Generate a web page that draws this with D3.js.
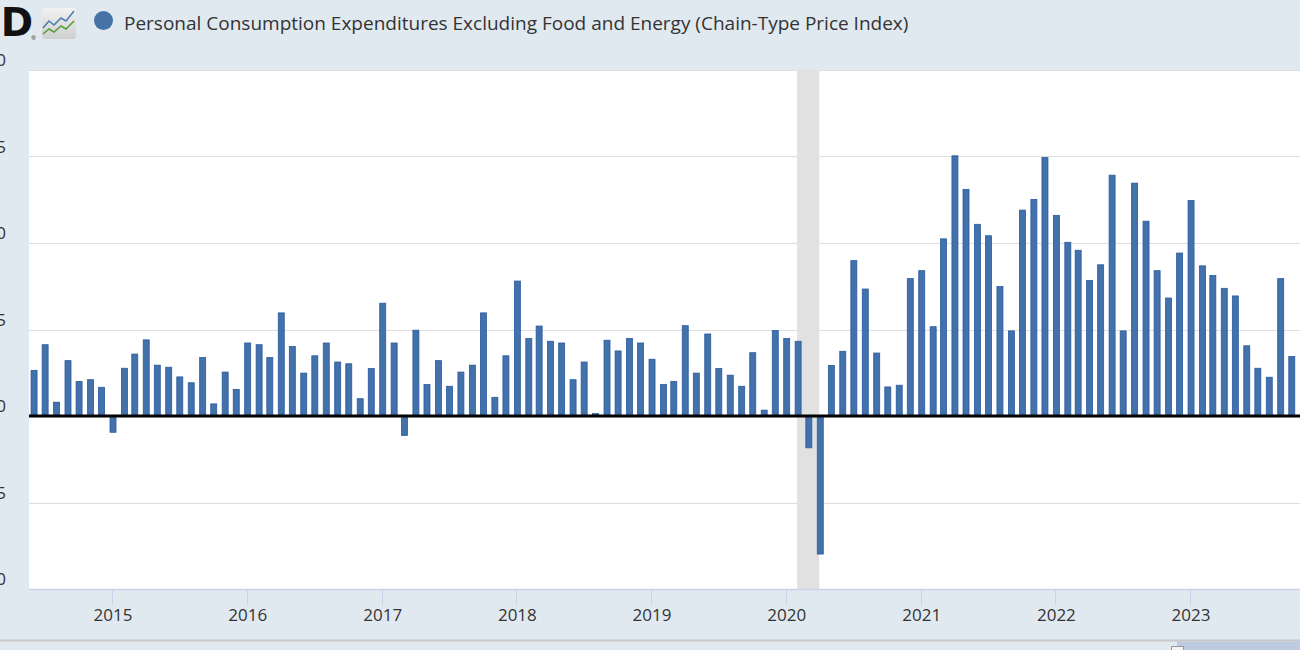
<!DOCTYPE html>
<html>
<head>
<meta charset="utf-8">
<script src="https://cdn.jsdelivr.net/npm/d3@7"></script>
<style>
  html, body { margin: 0; padding: 0; background: #e1e9f0; overflow: hidden; }
  svg { display: block; }
  text { font-family: "Open Sans", "Noto Sans", sans-serif; }
</style>
</head>
<body>
<svg id="chart" width="1300" height="650"></svg>
<script>
// ---- data ----
const seriesTitle = "Personal Consumption Expenditures Excluding Food and Energy (Chain-Type Price Index)";
const firstMonth = "2014-06-01";
const lastMonth = "2023-10-01";
// monthly percent change, Jun 2014 .. Oct 2023
const values = [
  0.132, 0.206, 0.040, 0.160, 0.100, 0.105, 0.083,
  -0.047, 0.138, 0.179, 0.220, 0.147, 0.141, 0.113, 0.096, 0.169, 0.035, 0.127, 0.077,
  0.211, 0.206, 0.169, 0.298, 0.201, 0.124, 0.174, 0.211, 0.156, 0.151, 0.050, 0.137,
  0.326, 0.211, -0.056, 0.248, 0.091, 0.160, 0.086, 0.127, 0.147, 0.298, 0.054, 0.174,
  0.390, 0.224, 0.260, 0.216, 0.211, 0.105, 0.156, 0.007, 0.219, 0.188, 0.224, 0.211,
  0.164, 0.091, 0.100, 0.261, 0.124, 0.237, 0.137, 0.118, 0.086, 0.183, 0.017, 0.247,
  0.224, 0.216, -0.092, -0.399, 0.146, 0.187, 0.449, 0.367, 0.182, 0.084, 0.089, 0.397,
  0.420, 0.258, 0.512, 0.752, 0.655, 0.554, 0.521, 0.374, 0.246, 0.595, 0.626, 0.747,
  0.580, 0.502, 0.479, 0.392, 0.437, 0.696, 0.246, 0.673, 0.563, 0.420, 0.341, 0.471,
  0.623, 0.434, 0.406, 0.369, 0.347, 0.203, 0.138, 0.112, 0.397, 0.172
];
const yTicks = [-0.5, -0.25, 0, 0.25, 0.5, 0.75, 1.0];
const xTickYears = [2015, 2016, 2017, 2018, 2019, 2020, 2021, 2022, 2023];
const recessions = [["2020-02-01", "2020-04-01"]];
const xDomain = ["2014-05-21", "2023-10-26"];

// ---- layout ----
const W = 1300, H = 650;
const plot = { left: 29, right: 1300, top: 70, bottom: 589 };
const parse = d3.utcParse("%Y-%m-%d");
const dates = d3.utcMonth.range(parse(firstMonth), d3.utcMonth.offset(parse(lastMonth), 1));
const data = dates.map((d, i) => ({ date: d, value: values[i] }));

const x = d3.scaleUtc().domain(xDomain.map(parse)).range([plot.left, plot.right]);
const y = d3.scaleLinear().domain([-0.5, 1.0]).range([plot.bottom, plot.top]);

const svg = d3.select("#chart");

// background
svg.append("rect").attr("width", W).attr("height", H).attr("fill", "#e1e9f0");

// plot area
svg.append("rect")
  .attr("x", plot.left).attr("y", plot.top)
  .attr("width", plot.right - plot.left).attr("height", plot.bottom - plot.top)
  .attr("fill", "#ffffff");

// gridlines
svg.append("g").selectAll("line").data(yTicks.filter(t => t !== 0 && t !== -0.5)).join("line")
  .attr("x1", plot.left).attr("x2", plot.right)
  .attr("y1", d => Math.round(y(d)) + 0.5).attr("y2", d => Math.round(y(d)) + 0.5)
  .attr("stroke", "#dedede").attr("stroke-width", 1);

// recession shading
svg.append("g").selectAll("rect").data(recessions).join("rect")
  .attr("x", d => x(parse(d[0])))
  .attr("width", d => x(parse(d[1])) - x(parse(d[0])))
  .attr("y", plot.top).attr("height", plot.bottom - plot.top)
  .attr("fill", "#e1e1e1");

// y labels (partly outside the window on the left, as in the reference crop)
svg.append("g").selectAll("text").data(yTicks).join("text")
  .attr("x", 6).attr("y", d => y(d) - 4)
  .attr("text-anchor", "end")
  .attr("font-size", 17).attr("fill", "#333333")
  .text(d => d3.format(".2f")(d));

// bars
const bw = 6;
svg.append("g").selectAll("rect").data(data).join("rect")
  .attr("x", d => x(d.date) - bw / 2 + 1)
  .attr("width", bw)
  .attr("y", d => y(Math.max(0, d.value)))
  .attr("height", d => Math.abs(y(d.value) - y(0)))
  .attr("fill", "#4271ab")
  .attr("stroke", "#2a5a9e").attr("stroke-width", 0.8);

// zero line
svg.append("line")
  .attr("x1", plot.left).attr("x2", plot.right)
  .attr("y1", y(0)).attr("y2", y(0))
  .attr("stroke", "#000").attr("stroke-width", 3);

// x axis
svg.append("line")
  .attr("x1", plot.left).attr("x2", plot.right)
  .attr("y1", plot.bottom + 0.5).attr("y2", plot.bottom + 0.5)
  .attr("stroke", "#c6d3e8").attr("stroke-width", 1.5);

const xt = svg.append("g");
xt.selectAll("line").data(xTickYears).join("line")
  .attr("x1", d => Math.round(x(Date.UTC(d, 0, 1))) + 0.5)
  .attr("x2", d => Math.round(x(Date.UTC(d, 0, 1))) + 0.5)
  .attr("y1", plot.bottom).attr("y2", plot.bottom + 16)
  .attr("stroke", "#c6d3e8").attr("stroke-width", 1);
xt.selectAll("text").data(xTickYears).join("text")
  .attr("x", d => x(Date.UTC(d, 0, 1)) + 1)
  .attr("y", plot.bottom + 32)
  .attr("text-anchor", "middle")
  .attr("font-size", 17).attr("fill", "#333333")
  .text(d => d);

// navigator strip at bottom
svg.append("line").attr("x1", 0).attr("x2", W).attr("y1", 640.5).attr("y2", 640.5)
  .attr("stroke", "#c8c8c8").attr("stroke-width", 2);
svg.append("rect").attr("x", 1177).attr("y", 641.5).attr("width", W - 1177).attr("height", 10)
  .attr("fill", "#bccbe0");
svg.append("rect").attr("x", 1171.5).attr("y", 646.5).attr("width", 12).attr("height", 10)
  .attr("fill", "#f4f4f4").attr("stroke", "#999").attr("stroke-width", 1);

// ---- header: logo fragment, legend, title ----
svg.append("text").attr("x", 33).attr("y", 36).attr("text-anchor", "end")
  .attr("font-weight", 900)
  .attr("font-size", 39).attr("fill", "#111").style("font-family", "'DejaVu Sans', sans-serif")
  .text("FRED");
svg.append("text").attr("x", 31).attr("y", 40).attr("font-size", 6).attr("fill", "#333").text("®");

const defs = svg.append("defs");
const grad = defs.append("linearGradient").attr("id", "iconGrad").attr("x1", 0).attr("y1", 0).attr("x2", 0).attr("y2", 1);
grad.append("stop").attr("offset", "0%").attr("stop-color", "#f2f2f2");
grad.append("stop").attr("offset", "100%").attr("stop-color", "#cfcfcf");
const icon = svg.append("g").attr("transform", "translate(42,8)");
icon.append("rect").attr("width", 34).attr("height", 31).attr("rx", 3).attr("fill", "url(#iconGrad)");
icon.append("path").attr("d", "M1,20 L7,13 L12,17 L19,10 L24,13 L32,3")
  .attr("fill", "none").attr("stroke", "#4b7fb3").attr("stroke-width", 1.6);
icon.append("path").attr("d", "M1,26 L7,21 L12,24 L19,18 L24,21 L32,13")
  .attr("fill", "none").attr("stroke", "#5a9e3c").attr("stroke-width", 1.6);

svg.append("circle").attr("cx", 103.5).attr("cy", 20.5).attr("r", 9.5).attr("fill", "#4572a7");
svg.append("text").attr("x", 124).attr("y", 30)
  .attr("font-size", 19).attr("fill", "#333333")
  .text(seriesTitle);
</script>
</body>
</html>
